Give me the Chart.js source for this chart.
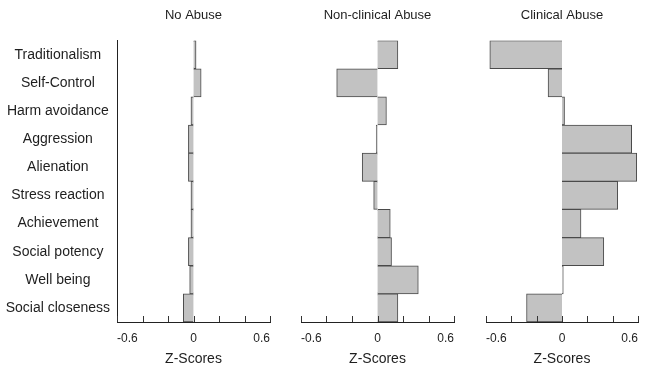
<!DOCTYPE html>
<html>
<head>
<meta charset="utf-8">
<script src="https://cdn.jsdelivr.net/npm/chart.js@4.4.1/dist/chart.umd.min.js"></script>
<style>
  body { margin: 0; background: #fff; }
  #wrap { position: relative; width: 647px; height: 370px; overflow: hidden; }
  .panel { position: absolute; top: 0; }
</style>
</head>
<body>
<div id="wrap">
  <canvas class="panel" id="no-abuse" width="280" height="370" style="left:0"></canvas>
  <canvas class="panel" id="nonclinical" width="180" height="370" style="left:285px"></canvas>
  <canvas class="panel" id="clinical" width="177" height="370" style="left:470px"></canvas>
</div>
<script>
// --- Data ---
const scales = [
  'Traditionalism', 'Self-Control', 'Harm avoidance', 'Aggression', 'Alienation',
  'Stress reaction', 'Achievement', 'Social potency', 'Well being', 'Social closeness'
];
const panelTitles = ['No Abuse', 'Non-clinical Abuse', 'Clinical Abuse'];
const noAbuse = [0.02, 0.06, -0.02, -0.04, -0.04, -0.02, -0.02, -0.04, -0.03, -0.08];
const nonClinicalAbuse = [0.16, -0.32, 0.07, -0.01, -0.12, -0.03, 0.10, 0.11, 0.32, 0.16];
const clinicalAbuse = [-0.57, -0.11, 0.02, 0.55, 0.59, 0.44, 0.15, 0.33, 0.01, -0.28];
const xTickLabels = [-0.6, 0, 0.6]; // only these get a label
const xAxisTitle = 'Z-Scores';

const FONT = '"Liberation Sans", Arial, sans-serif';
const INK = '#1e1e1e';

Chart.defaults.font.family = FONT;
Chart.defaults.color = INK;

// small tick marks pointing up from the x axis line
const innerTicks = {
  id: 'innerTicks',
  afterDraw(chart) {
    const x = chart.scales.x;
    const ctx = chart.ctx;
    const y = chart.chartArea.bottom;
    ctx.save();
    ctx.strokeStyle = '#333';
    ctx.lineWidth = 1;
    x.ticks.forEach(t => {
      const px = Math.round(x.getPixelForValue(t.value)) + 0.5;
      ctx.beginPath();
      ctx.moveTo(px, y);
      ctx.lineTo(px, y - 6);
      ctx.stroke();
    });
    ctx.restore();
  }
};

/**
 * Builds one panel of the figure.
 */
function makePanel(canvasId, title, values, showLabels, pad) {
  return new Chart(document.getElementById(canvasId), {
    type: 'bar',
    data: {
      labels: scales,
      datasets: [{
        data: values,
        backgroundColor: '#c2c2c2',
        borderColor: '#4a4a4a',
        borderWidth: 1,
        barPercentage: 1,
        categoryPercentage: 1
      }]
    },
    options: {
      indexAxis: 'y',
      responsive: false,
      animation: false,
      layout: { padding: { left: pad.left, right: pad.right, top: 0, bottom: 0 } },
      scales: {
        x: {
          min: -0.6,
          max: 0.6,
          grid: { display: false, drawTicks: false },
          border: { display: true, color: '#222', width: 1 },
          ticks: {
            stepSize: 0.2,
            align: 'inner',
            padding: 9,
            maxRotation: 0,
            autoSkip: false,
            font: { size: 12 },
            callback: v => {
              const hit = xTickLabels.find(l => Math.abs(l - v) < 1e-6);
              if (hit === undefined) return '';
              return hit === 0 ? '0' : hit.toFixed(1);
            }
          },
          title: {
            display: true,
            text: xAxisTitle,
            font: { size: 14 },
            padding: { top: 0, bottom: 2 }
          },
          afterFit: s => { s.height = 48; }
        },
        y: {
          display: showLabels,
          grid: { display: false, drawTicks: false },
          border: { display: showLabels, color: '#222', width: 1 },
          ticks: {
            crossAlign: 'center',
            padding: 7,
            font: { size: 14 }
          },
          afterFit: s => { if (showLabels) s.width = 117; }
        }
      },
      plugins: {
        legend: { display: false },
        tooltip: { enabled: false },
        title: {
          display: true,
          text: title,
          fullSize: false,
          font: { size: 13, weight: 'normal' },
          color: INK,
          padding: { top: 8, bottom: 17 }
        }
      }
    },
    plugins: [innerTicks]
  });
}

makePanel('no-abuse', panelTitles[0], noAbuse, true, { left: 0, right: 10 });
makePanel('nonclinical', panelTitles[1], nonClinicalAbuse, false, { left: 16, right: 11 });
makePanel('clinical', panelTitles[2], clinicalAbuse, false, { left: 16, right: 9 });
</script>
</body>
</html>
